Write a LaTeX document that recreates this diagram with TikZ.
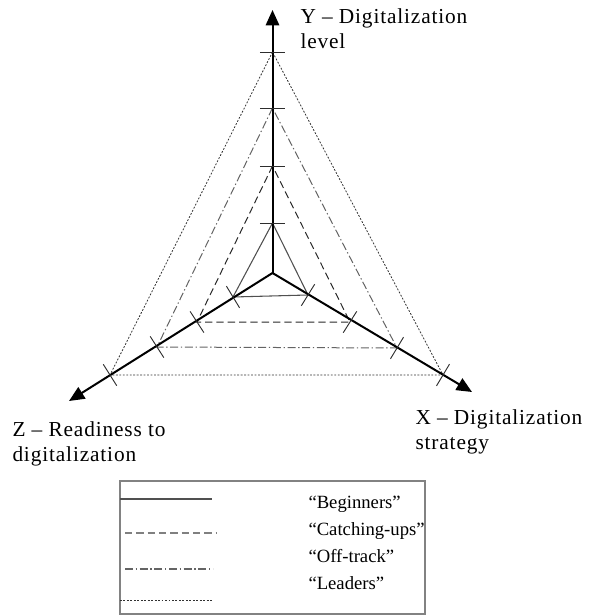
\documentclass[tikz,border=0pt]{standalone}
\usepackage{fontspec}
\setmainfont{Liberation Serif}
\newfontfamily\axisfont[LetterSpace=4,Ligatures=TeX]{Liberation Serif}
\usetikzlibrary{arrows.meta,calc}

\tikzset{every picture/.style={line width=0.75pt}}
\tikzset{
  axisline/.style={line width=1.5pt, -{Triangle[length=11.5pt,width=10pt]}},
  tickline/.style={color={rgb, 255:red, 45; green, 45; blue, 45}, line width=0.7pt},
  beginners/.style={color={rgb, 255:red, 80; green, 80; blue, 80}, line width=0.8pt},
  catching/.style={color={rgb, 255:red, 40; green, 40; blue, 40}, dash pattern={on 5.5pt off 3pt}},
  offtrack/.style={color={rgb, 255:red, 100; green, 100; blue, 100}, dash pattern={on 6pt off 2pt on 1pt off 2pt}},
  leaders/.style={color={rgb, 255:red, 50; green, 50; blue, 50}, line width=0.6pt, dash pattern={on 1.4pt off 1.2pt}},
  axislabel/.style={anchor=north west, inner sep=0pt, align=left, font=\axisfont\fontsize{16}{18.75}\selectfont},
  legendlabel/.style={anchor=base west, inner sep=0pt, font=\fontsize{14}{16.8}\selectfont}
}

\begin{document}
\begin{tikzpicture}[x=0.75pt,y=0.75pt,yscale=-1,xscale=1]
\useasboundingbox (0,0) rectangle (592,616);

%Axis origin and tips
\coordinate (O) at (272.5,273);
\coordinate (Ytip) at (272.5,10);
\coordinate (Ztip) at (69,401);
\coordinate (Xtip) at (472,392);
%Tick points
\coordinate (y1) at (272.5,52);
\coordinate (y2) at (272.5,108);
\coordinate (y3) at (272.5,166);
\coordinate (y4) at (272.5,223);
\coordinate (z1) at (233,297);
\coordinate (z2) at (197,322);
\coordinate (z3) at (157,347);
\coordinate (z4) at (110,375);
\coordinate (x1) at (308,295);
\coordinate (x2) at (350,322);
\coordinate (x3) at (397,348);
\coordinate (x4) at (443,375);

%Shapes: profiles
\draw [leaders] (y1) -- (z4) -- (x4) -- cycle ;
\draw [offtrack] (y2) -- (z3) -- (x3) -- cycle ;
\draw [catching] (y3) -- (z2) -- (x2) -- cycle ;
\draw [beginners] (y4) -- (z1) -- (x1) -- cycle ;

%Axes
\draw [axisline] (O) -- (Ytip) ;
\draw [axisline] (O) -- (Ztip) ;
\draw [axisline] (O) -- (Xtip) ;

%Ticks
\foreach \t in {y1,y2,y3,y4,z1,z2,z3,z4,x1,x2,x3,x4}
  \draw [tickline] ($(\t)!9.5pt!90:(O)$) -- ($(\t)!9.5pt!-90:(O)$) ;

% Text Node
\node [axislabel] (ylab) at (300,8) {Y – Digitalization\\level};
% Text Node
\node [axislabel] (xlab) at (415,409) {X – Digitalization\\strategy};
% Text Node
\node [axislabel] (zlab) at (12,421) {Z – Readiness to\\digitalization};

%Legend
\draw [color={rgb, 255:red, 130; green, 130; blue, 130}, line width=1pt] (120,481) rectangle (425,614) ;
\draw [beginners, line width=1pt] (120,499) -- (212,499) ;
\draw [catching, color=gray, line width=1pt] (125,533) -- (217,533) ;
\draw [offtrack, line width=1pt] (125,569) -- (213,569) ;
\draw [leaders] (120,600) -- (213,600) ;

% Text Node
\node [legendlabel] (lab1) at (308,508) {“Beginners”};
% Text Node
\node [legendlabel] (lab2) at (308,535) {“Catching-ups”};
% Text Node
\node [legendlabel] (lab3) at (308,562) {“Off-track”};
% Text Node
\node [legendlabel] (lab4) at (308,589) {“Leaders”};

\end{tikzpicture}
\end{document}
